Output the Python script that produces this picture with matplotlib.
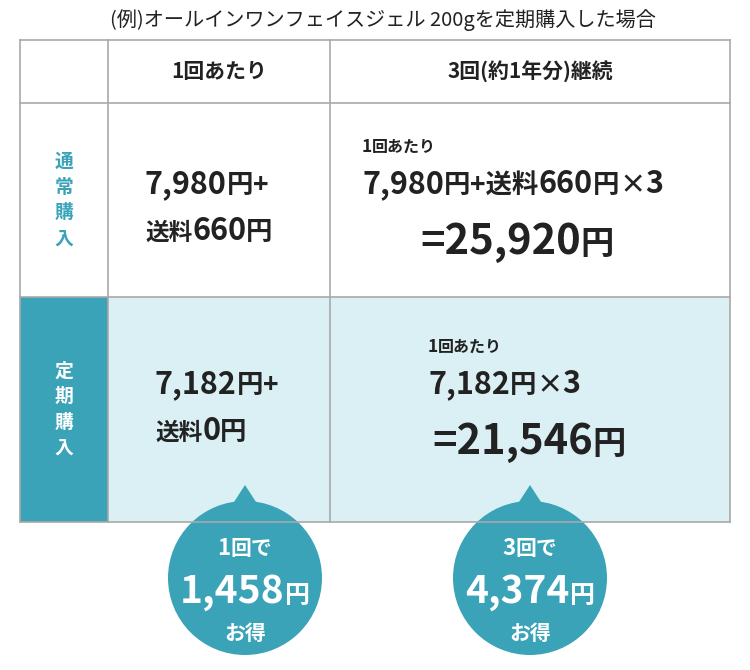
import matplotlib.pyplot as plt
from matplotlib.patches import Rectangle, Circle, Polygon

plt.rcParams['font.family'] = 'Noto Sans CJK JP'

title = '(例)オールインワンフェイスジェル 200gを定期購入した場合'
col_headers = ['1回あたり', '3回(約1年分)継続']
row_headers = ['通常購入', '定期購入']
per_price = ['7,980', '7,182']
shipping = ['660', '0']
total = ['25,920', '21,546']
times = 3
savings = ['1,458', '4,374']
saving_labels = ['1回で', '3回で']

TEAL = '#3aa3b8'
LIGHT = '#daf0f4'
LINE = '#a9a9a9'
DARK = '#222222'

fig = plt.figure(figsize=(7.5, 6.7), dpi=100)
ax = fig.add_axes([0, 0, 1, 1])
ax.set_xlim(0, 750)
ax.set_ylim(670, 0)
ax.axis('off')
fig.canvas.draw()
renderer = fig.canvas.get_renderer()


def pieces(x, y, parts, color=DARK, ha='left'):
    # parts: list of (text, fontsize); baseline-aligned run of text
    objs = []
    cx = x
    for s, fs in parts:
        t = ax.text(cx, y, s, fontsize=fs, fontweight='bold', color=color,
                    va='baseline', ha='left')
        bb = t.get_window_extent(renderer)
        cx += bb.width
        objs.append(t)
    if ha == 'center':
        shift = (cx - x) / 2
        for t in objs:
            px, py = t.get_position()
            t.set_position((px - shift, py))


ax.text(383, 20, title, fontsize=14.5, ha='center', va='center', color=DARK)

xs = [20, 108, 330, 730]
ys = [40, 103, 297, 522]

ax.add_patch(Rectangle((xs[0], ys[2]), xs[1] - xs[0], ys[3] - ys[2], color=TEAL, lw=0))
ax.add_patch(Rectangle((xs[1], ys[2]), xs[3] - xs[1], ys[3] - ys[2], color=LIGHT, lw=0))
for x in xs:
    ax.plot([x, x], [ys[0], ys[3]], color=LINE, lw=1.2)
for y in ys:
    ax.plot([xs[0], xs[3]], [y, y], color=LINE, lw=1.2)

ax.text(219, 72, col_headers[0], fontsize=15, fontweight='bold', ha='center', va='center', color=DARK)
ax.text(530, 72, col_headers[1], fontsize=15, fontweight='bold', ha='center', va='center', color=DARK)

for i, rh in enumerate(row_headers):
    cy = (ys[i + 1] + ys[i + 2]) / 2
    col = TEAL if i == 0 else 'white'
    ax.text(64, cy, '\n'.join(rh), fontsize=13.5, fontweight='bold', ha='center',
            va='center', color=col, linespacing=1.45)

# regular row
pieces(145, 193, [(per_price[0], 22), ('円', 19), ('+', 19)])
pieces(145, 240, [('送料', 17), (shipping[0], 22), ('円', 19)])
pieces(362, 152, [('1', 12.5), ('回あたり', 11.5)])
pieces(362, 193, [(per_price[0], 22), ('円', 19), ('+送料', 19), (shipping[0], 22),
                  ('円', 19), ('×', 19), (str(times), 22)])
pieces(420, 254, [('=' + total[0], 30), ('円', 24)])

# subscription row
pieces(155, 393, [(per_price[1], 22), ('円', 19), ('+', 19)])
pieces(155, 440, [('送料', 17), (shipping[1], 22), ('円', 19)])
pieces(428, 352, [('1', 12.5), ('回あたり', 11.5)])
pieces(428, 393, [(per_price[1], 22), ('円', 19), ('×', 19), (str(times), 22)])
pieces(432, 454, [('=' + total[1], 30), ('円', 24)])

# bubbles
for cx, lab, val in zip([245, 530], saving_labels, savings):
    ax.add_patch(Polygon([[cx - 11, 502], [cx + 11, 502], [cx, 485]], color=TEAL, lw=0))
    ax.add_patch(Circle((cx, 578), 77, color=TEAL, lw=0))
    pieces(cx, 555, [(lab[0], 16), (lab[1:], 15)], color='white', ha='center')
    pieces(cx, 603, [(val, 28), ('円', 18)], color='white', ha='center')
    ax.text(cx, 633, 'お得', fontsize=15, fontweight='bold', color='white', ha='center', va='center')

fig.savefig('out.png', dpi=100)
